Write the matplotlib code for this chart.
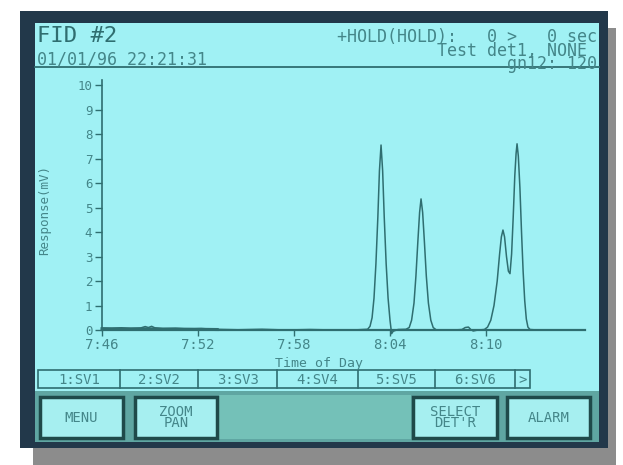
import matplotlib
matplotlib.use("Agg")
import matplotlib.pyplot as plt
from matplotlib.patches import Rectangle

# chromatogram: minutes after 7:46 vs response in mV
trace_min = [0.0, 0.6, 1.2, 1.8, 2.4, 2.7, 2.9, 3.1, 3.3, 3.8, 4.6, 5.4, 6.2, 7.0,
             8.5, 10.0, 11.5, 13.0, 14.5, 16.0, 16.6,
             16.75, 16.88, 17.0, 17.12, 17.24, 17.34, 17.44, 17.54, 17.64, 17.76,
             17.88, 18.0, 18.1, 18.2, 18.5,
             19.0, 19.2, 19.35, 19.5, 19.62, 19.74, 19.85, 19.94, 20.04, 20.15,
             20.27, 20.4, 20.55, 20.7, 20.9,
             22.0, 22.5, 22.7, 22.9, 23.05, 23.2, 23.5,
             23.9, 24.1, 24.3, 24.5, 24.7, 24.85, 24.96, 25.06, 25.16, 25.28, 25.4,
             25.5, 25.6, 25.7, 25.8, 25.88, 25.94, 26.02, 26.12, 26.22, 26.32,
             26.42, 26.52, 26.62, 26.75, 27.2, 30.2]
trace_mv = [0.08, 0.06, 0.09, 0.05, 0.08, 0.14, 0.1, 0.15, 0.09, 0.05, 0.07, 0.04, 0.06, 0.03,
            0.01, 0.03, 0.0, 0.02, 0.0, 0.01, 0.03,
            0.15, 0.5, 1.3, 2.7, 4.6, 6.5, 7.55, 6.5, 4.6, 2.7,
            1.3, 0.4, -0.15, -0.05, 0.02,
            0.03, 0.1, 0.4, 1.1, 2.2, 3.6, 4.8, 5.35, 4.8, 3.6,
            2.2, 1.1, 0.4, 0.1, 0.0,
            0.0, 0.02, 0.1, 0.12, 0.02, -0.04, 0.0,
            0.02, 0.12, 0.4, 1.0, 2.0, 3.1, 3.8, 4.08, 3.8, 3.0, 2.4,
            2.3, 3.1, 4.6, 6.3, 7.2, 7.6, 7.1, 5.8, 4.0, 2.4,
            1.2, 0.45, 0.12, 0.02, 0.0, 0.0]

# thick noisy stretch at the start of the run
noise_min = [0.0, 2.0, 4.0, 6.0, 7.2]
noise_mv = [0.05, 0.05, 0.04, 0.03, 0.02]

tick_min = [0, 6, 12, 18, 24]
tick_labels = ["7:46", "7:52", "7:58", "8:04", "8:10"]
y_ticks = [0, 1, 2, 3, 4, 5, 6, 7, 8, 9, 10]

header_right = ["+HOLD(HOLD):   0 >   0 sec", "Test det1, NONE ", "gn12: 120"]
softkeys = ["1:SV1", "2:SV2", "3:SV3", "4:SV4", "5:SV5", "6:SV6", ">"]
softkey_edges = [38, 120, 198, 277, 358, 435, 515, 530]
buttons = ["MENU", "ZOOM\nPAN", "SELECT\nDET'R", "ALARM"]
button_x = [(40, 123), (135, 217), (413, 497), (507, 590)]

SCREEN = "#a0f1f4"
INK = "#2f6e70"
TEXT = "#448689"
FRAME = "#22384a"
MONO = "DejaVu Sans Mono"

W, H = 623, 465
fig = plt.figure(figsize=(W / 100, H / 100), dpi=100)
fig.patch.set_facecolor("white")

bg = fig.add_axes([0, 0, 1, 1])
bg.set_xlim(0, W)
bg.set_ylim(H, 0)
bg.axis("off")

# shadow, frame, screen
bg.add_patch(Rectangle((33, 447), 583, 18, color="#8c8c8c", lw=0))
bg.add_patch(Rectangle((606, 28), 10, 437, color="#8c8c8c", lw=0))
bg.add_patch(Rectangle((20, 11), 588, 437, color=FRAME, lw=0))
bg.add_patch(Rectangle((35, 23), 564, 368, color=SCREEN, lw=0))
# button strip
bg.add_patch(Rectangle((35, 391), 564, 51, color="#5fa6a2", lw=0))
bg.add_patch(Rectangle((219, 395), 192, 44, color="#74c1b8", lw=0))

# header
bg.text(37, 36, "FID #2", family=MONO, fontsize=16, color=INK, va="center")
bg.text(37, 59.5, "01/01/96 22:21:31", family=MONO, fontsize=12, color=TEXT, va="center")
bg.text(597, 28, "\n".join(header_right), family=MONO, fontsize=12, color=TEXT,
        va="top", ha="right", multialignment="right", linespacing=0.68)
bg.plot([35, 599], [67, 67], color=INK, lw=1.3)

# axis titles
bg.text(45, 210, "Response(mV)", family=MONO, fontsize=9, color=TEXT,
        rotation=90, ha="center", va="center")
bg.text(319, 363, "Time of Day", family=MONO, fontsize=9.5, color=TEXT,
        ha="center", va="center")

# softkey row
bg.add_patch(Rectangle((softkey_edges[0], 370), softkey_edges[-1] - softkey_edges[0], 18,
                       fill=False, ec=INK, lw=1.2))
for i, lab in enumerate(softkeys):
    x0, x1 = softkey_edges[i], softkey_edges[i + 1]
    if i > 0:
        bg.plot([x0, x0], [370, 388], color=INK, lw=1.2)
    bg.text((x0 + x1) / 2, 379.5, lab, family=MONO, fontsize=10, color=TEXT,
            ha="center", va="center")

# buttons
for lab, (x0, x1) in zip(buttons, button_x):
    bg.add_patch(Rectangle((x0, 397), x1 - x0, 41, fc="#a6eff0", ec="#1f4a4a", lw=2.5))
    bg.text((x0 + x1) / 2, 417.5, lab, family=MONO, fontsize=10, color=TEXT,
            ha="center", va="center", linespacing=0.8)

# chromatogram
x_left, x_right = 102, 585
y_zero, y_top = 330, 80
px_per_mv = 24.5
px_per_min = 16.0
ax = fig.add_axes([x_left / W, 1 - y_zero / H, (x_right - x_left) / W, (y_zero - y_top) / H])
ax.patch.set_alpha(0)
ax.set_xlim(0, (x_right - x_left) / px_per_min)
ax.set_ylim(0, (y_zero - y_top) / px_per_mv)
ax.plot(trace_min, trace_mv, color=INK, lw=1.1, clip_on=False)
ax.plot(noise_min, noise_mv, color=INK, lw=2.2, clip_on=False)

for side in ["top", "right"]:
    ax.spines[side].set_visible(False)
ax.spines["bottom"].set_color(INK)
ax.spines["bottom"].set_linewidth(1.6)
ax.spines["left"].set_color(INK)
ax.spines["left"].set_linewidth(1.2)

ax.set_xticks(tick_min)
ax.set_xticklabels(tick_labels)
ax.set_yticks(y_ticks)
ax.tick_params(axis="x", direction="out", length=4.5, width=1.0, color=INK,
               labelcolor=TEXT, labelsize=10, pad=1)
ax.tick_params(axis="y", direction="out", length=5, width=1.0, color=INK,
               labelcolor=TEXT, labelsize=9, pad=2)
for lab in ax.get_xticklabels() + ax.get_yticklabels():
    lab.set_family(MONO)

fig.savefig("out.png", dpi=100)
